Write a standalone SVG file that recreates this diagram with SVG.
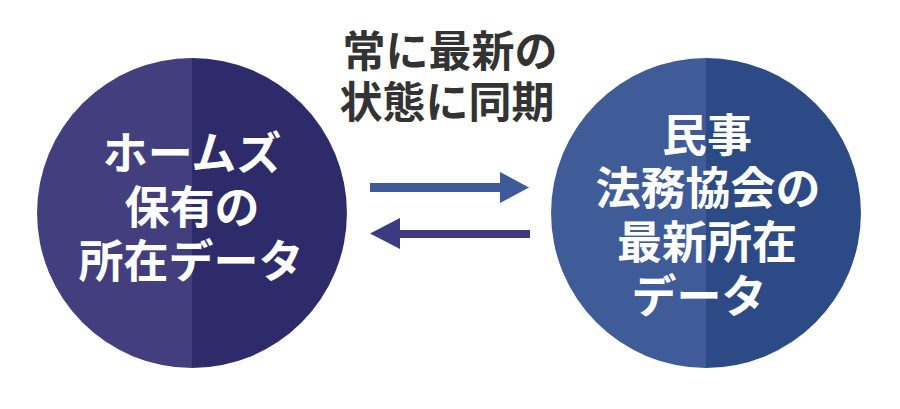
<svg xmlns="http://www.w3.org/2000/svg" width="900" height="409" viewBox="0 0 900 409">
<style>
.title{font-family:"Noto Sans CJK JP","Noto Sans CJK SC",sans-serif;font-weight:700;font-size:43px;fill:#333333;text-anchor:middle}
.lbl{font-family:"Noto Sans CJK JP","Noto Sans CJK SC",sans-serif;font-weight:700;font-size:45px;fill:#ffffff;text-anchor:middle}
</style>
<rect width="900" height="409" fill="#ffffff"/>
<g id="title">
<text class="title" x="450" y="67">常に最新の</text>
<text class="title" x="447" y="118">状態に同期</text>
</g>
<g id="node-homes">
<path d="M192,58 A155,155 0 0 0 192,368 Z" fill="#433f7e"/>
<path d="M192,58 A155,155 0 0 1 192,368 Z" fill="#2e2b6b"/>
<text class="lbl" x="192" y="170">ホームズ</text>
<text class="lbl" x="192" y="224">保有の</text>
<text class="lbl" x="191" y="278">所在データ</text>
</g>
<g id="node-minji">
<path d="M706,58 A155,155 0 0 0 706,368 Z" fill="#3f5c98"/>
<path d="M706,58 A155,155 0 0 1 706,368 Z" fill="#2c4b86"/>
<text class="lbl" x="707" y="152">民事</text>
<text class="lbl" x="708" y="205">法務協会の</text>
<text class="lbl" x="707" y="259">最新所在</text>
<text class="lbl" x="699" y="313">データ</text>
</g>
<g id="connectors">
<polygon points="370,183 500,183 500,172 529,187.5 500,203 500,192 370,192" fill="#3e5a98"/>
<polygon points="530,230 400,230 400,218 370,233.5 400,249 400,238 530,238" fill="#3c3a80"/>
</g>
</svg>
